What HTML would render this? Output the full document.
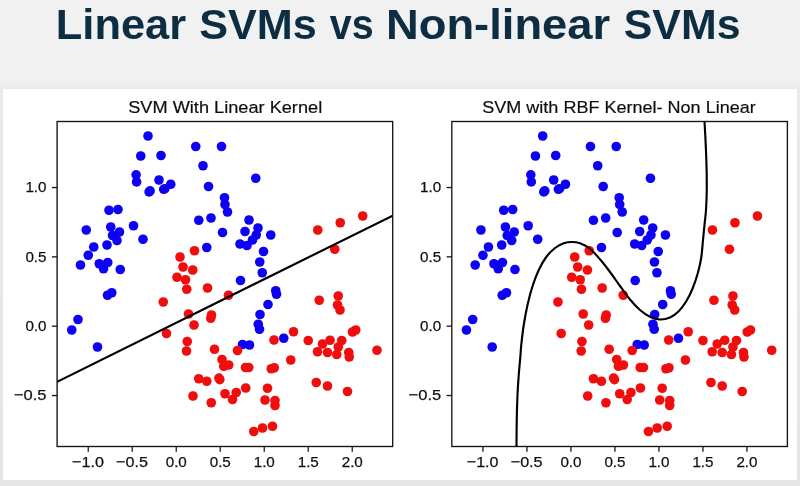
<!DOCTYPE html>
<html><head><meta charset="utf-8"><title>Linear SVMs vs Non-linear SVMs</title>
<style>
html,body{margin:0;padding:0}
body{width:800px;height:486px;overflow:hidden;position:relative;background:#f1f1f2;font-family:"Liberation Sans",sans-serif}
#shade{position:absolute;left:0;top:82px;width:800px;height:404px;background:linear-gradient(#f1f1f2,#e9e9e9 8px,#e5e5e5)}
#panel{position:absolute;left:3px;top:89px;width:794px;height:391px;background:#fff}
h1{position:absolute;left:0;top:0;margin:0;width:800px;text-align:center;color:#0b2d43;font-weight:bold;font-size:40px;line-height:48px;white-space:nowrap}
.tt{font-family:"Liberation Sans",sans-serif;font-weight:bold;font-size:41.8px;fill:#0b2d43}
.tk{font-family:"Liberation Sans",sans-serif;font-size:15.2px;fill:#111;stroke:#111;stroke-width:0.25px}
.st{font-family:"Liberation Sans",sans-serif;font-size:17.4px;fill:#111;stroke:#111;stroke-width:0.2px}
</style></head>
<body>
<div id="shade"></div>
<div id="panel"></div>
<svg width="800" height="486" viewBox="0 0 800 486" style="position:absolute;left:0;top:0">
<defs>
<clipPath id="cl"><rect x="57.1" y="121.5" width="335.59999999999997" height="325.0"/></clipPath>
<clipPath id="cr"><rect x="451.8" y="121.5" width="335.59999999999997" height="325.0"/></clipPath>
<filter id="bl" x="-5%" y="-5%" width="110%" height="110%"><feGaussianBlur stdDeviation="0.45"/></filter>
<filter id="b2" x="-2%" y="-2%" width="104%" height="104%"><feGaussianBlur stdDeviation="0.3"/></filter>
</defs>
<g filter="url(#b2)"><text class="tt" transform="translate(55.84,38.75) scale(1.0389,1)">Linear</text><text class="tt" transform="translate(199.16,38.75) scale(1.0334,1)">SVMs</text><text class="tt" transform="translate(329.81,38.75) scale(0.9438,1)">vs</text><text class="tt" transform="translate(385.96,38.75) scale(1.0851,1)">Non-linear</text><text class="tt" transform="translate(623.77,38.75) scale(1.0257,1)">SVMs</text></g>
<g filter="url(#bl)">
<g fill="#0a00f5"><circle cx="148.00" cy="136.00" r="4.8"/><circle cx="140.75" cy="156.00" r="4.8"/><circle cx="161.00" cy="155.50" r="4.8"/><circle cx="195.75" cy="146.50" r="4.8"/><circle cx="221.50" cy="146.50" r="4.8"/><circle cx="203.00" cy="165.75" r="4.8"/><circle cx="136.10" cy="174.80" r="4.8"/><circle cx="136.60" cy="181.90" r="4.8"/><circle cx="159.00" cy="180.00" r="4.8"/><circle cx="170.75" cy="184.25" r="4.8"/><circle cx="163.70" cy="189.30" r="4.8"/><circle cx="164.90" cy="188.70" r="4.8"/><circle cx="149.10" cy="191.90" r="4.8"/><circle cx="150.10" cy="190.90" r="4.8"/><circle cx="208.50" cy="186.50" r="4.8"/><circle cx="224.50" cy="197.75" r="4.8"/><circle cx="225.00" cy="204.50" r="4.8"/><circle cx="227.50" cy="212.00" r="4.8"/><circle cx="109.00" cy="210.25" r="4.8"/><circle cx="118.00" cy="209.50" r="4.8"/><circle cx="198.75" cy="220.25" r="4.8"/><circle cx="211.00" cy="218.00" r="4.8"/><circle cx="86.25" cy="230.00" r="4.8"/><circle cx="110.75" cy="227.00" r="4.8"/><circle cx="133.50" cy="225.75" r="4.8"/><circle cx="119.50" cy="232.00" r="4.8"/><circle cx="222.50" cy="232.50" r="4.8"/><circle cx="245.00" cy="231.50" r="4.8"/><circle cx="249.00" cy="220.00" r="4.8"/><circle cx="255.75" cy="178.25" r="4.8"/><circle cx="258.00" cy="228.00" r="4.8"/><circle cx="270.75" cy="235.00" r="4.8"/><circle cx="256.25" cy="235.00" r="4.8"/><circle cx="112.50" cy="235.50" r="4.8"/><circle cx="117.00" cy="240.50" r="4.8"/><circle cx="143.00" cy="239.25" r="4.8"/><circle cx="107.00" cy="245.00" r="4.8"/><circle cx="93.75" cy="247.00" r="4.8"/><circle cx="88.25" cy="255.25" r="4.8"/><circle cx="80.50" cy="265.00" r="4.8"/><circle cx="99.25" cy="263.75" r="4.8"/><circle cx="107.75" cy="262.50" r="4.8"/><circle cx="103.50" cy="268.75" r="4.8"/><circle cx="120.25" cy="269.50" r="4.8"/><circle cx="111.75" cy="292.75" r="4.8"/><circle cx="107.50" cy="295.25" r="4.8"/><circle cx="78.00" cy="319.50" r="4.8"/><circle cx="71.75" cy="330.00" r="4.8"/><circle cx="97.50" cy="347.00" r="4.8"/><circle cx="206.75" cy="247.50" r="4.8"/><circle cx="240.00" cy="244.00" r="4.8"/><circle cx="247.00" cy="245.50" r="4.8"/><circle cx="240.50" cy="280.50" r="4.8"/><circle cx="242.50" cy="344.50" r="4.8"/><circle cx="249.50" cy="345.00" r="4.8"/><circle cx="252.50" cy="240.00" r="4.8"/><circle cx="263.50" cy="251.50" r="4.8"/><circle cx="259.75" cy="262.00" r="4.8"/><circle cx="262.25" cy="272.75" r="4.8"/><circle cx="275.75" cy="290.75" r="4.8"/><circle cx="276.50" cy="294.25" r="4.8"/><circle cx="268.00" cy="304.50" r="4.8"/><circle cx="260.00" cy="314.50" r="4.8"/><circle cx="258.25" cy="324.25" r="4.8"/><circle cx="259.50" cy="329.25" r="4.8"/><circle cx="283.75" cy="338.25" r="4.8"/></g>
<g fill="#f00a0a"><circle cx="317.75" cy="230.00" r="4.8"/><circle cx="340.25" cy="222.75" r="4.8"/><circle cx="362.75" cy="216.00" r="4.8"/><circle cx="194.50" cy="250.75" r="4.8"/><circle cx="180.00" cy="257.00" r="4.8"/><circle cx="183.00" cy="267.00" r="4.8"/><circle cx="192.75" cy="270.00" r="4.8"/><circle cx="177.00" cy="277.25" r="4.8"/><circle cx="185.50" cy="279.75" r="4.8"/><circle cx="186.75" cy="289.25" r="4.8"/><circle cx="207.50" cy="288.00" r="4.8"/><circle cx="228.50" cy="295.25" r="4.8"/><circle cx="163.25" cy="302.00" r="4.8"/><circle cx="188.50" cy="314.00" r="4.8"/><circle cx="211.50" cy="315.00" r="4.8"/><circle cx="210.75" cy="318.25" r="4.8"/><circle cx="194.00" cy="325.00" r="4.8"/><circle cx="166.50" cy="333.50" r="4.8"/><circle cx="187.25" cy="341.50" r="4.8"/><circle cx="334.75" cy="249.25" r="4.8"/><circle cx="319.25" cy="300.25" r="4.8"/><circle cx="338.25" cy="296.00" r="4.8"/><circle cx="337.50" cy="305.00" r="4.8"/><circle cx="340.00" cy="310.00" r="4.8"/><circle cx="293.50" cy="331.75" r="4.8"/><circle cx="274.00" cy="340.00" r="4.8"/><circle cx="308.25" cy="340.50" r="4.8"/><circle cx="330.00" cy="340.25" r="4.8"/><circle cx="341.75" cy="340.50" r="4.8"/><circle cx="322.50" cy="344.00" r="4.8"/><circle cx="352.50" cy="332.00" r="4.8"/><circle cx="355.75" cy="330.00" r="4.8"/><circle cx="186.50" cy="351.00" r="4.8"/><circle cx="214.50" cy="349.25" r="4.8"/><circle cx="237.50" cy="350.50" r="4.8"/><circle cx="222.00" cy="359.50" r="4.8"/><circle cx="228.75" cy="365.00" r="4.8"/><circle cx="223.75" cy="366.25" r="4.8"/><circle cx="245.50" cy="367.50" r="4.8"/><circle cx="248.75" cy="367.50" r="4.8"/><circle cx="198.75" cy="378.75" r="4.8"/><circle cx="206.75" cy="381.25" r="4.8"/><circle cx="218.90" cy="378.10" r="4.8"/><circle cx="219.80" cy="379.60" r="4.8"/><circle cx="245.75" cy="388.00" r="4.8"/><circle cx="225.00" cy="393.75" r="4.8"/><circle cx="236.25" cy="392.50" r="4.8"/><circle cx="232.50" cy="399.50" r="4.8"/><circle cx="193.00" cy="396.00" r="4.8"/><circle cx="211.25" cy="402.75" r="4.8"/><circle cx="338.25" cy="347.00" r="4.8"/><circle cx="317.50" cy="351.75" r="4.8"/><circle cx="327.50" cy="352.50" r="4.8"/><circle cx="336.75" cy="354.50" r="4.8"/><circle cx="348.75" cy="352.50" r="4.8"/><circle cx="349.25" cy="357.00" r="4.8"/><circle cx="377.00" cy="350.25" r="4.8"/><circle cx="290.75" cy="360.00" r="4.8"/><circle cx="271.25" cy="368.75" r="4.8"/><circle cx="274.25" cy="367.75" r="4.8"/><circle cx="316.25" cy="382.50" r="4.8"/><circle cx="327.50" cy="386.00" r="4.8"/><circle cx="347.50" cy="391.50" r="4.8"/><circle cx="267.50" cy="388.25" r="4.8"/><circle cx="265.00" cy="400.00" r="4.8"/><circle cx="275.00" cy="400.50" r="4.8"/><circle cx="275.00" cy="405.50" r="4.8"/><circle cx="272.50" cy="426.25" r="4.8"/><circle cx="262.50" cy="428.00" r="4.8"/><circle cx="253.75" cy="431.50" r="4.8"/></g>
<g fill="#0a00f5"><circle cx="542.70" cy="136.00" r="4.8"/><circle cx="535.45" cy="156.00" r="4.8"/><circle cx="555.70" cy="155.50" r="4.8"/><circle cx="590.45" cy="146.50" r="4.8"/><circle cx="616.20" cy="146.50" r="4.8"/><circle cx="597.70" cy="165.75" r="4.8"/><circle cx="530.80" cy="174.80" r="4.8"/><circle cx="531.30" cy="181.90" r="4.8"/><circle cx="553.70" cy="180.00" r="4.8"/><circle cx="565.45" cy="184.25" r="4.8"/><circle cx="558.40" cy="189.30" r="4.8"/><circle cx="559.60" cy="188.70" r="4.8"/><circle cx="543.80" cy="191.90" r="4.8"/><circle cx="544.80" cy="190.90" r="4.8"/><circle cx="603.20" cy="186.50" r="4.8"/><circle cx="619.20" cy="197.75" r="4.8"/><circle cx="619.70" cy="204.50" r="4.8"/><circle cx="622.20" cy="212.00" r="4.8"/><circle cx="503.70" cy="210.25" r="4.8"/><circle cx="512.70" cy="209.50" r="4.8"/><circle cx="593.45" cy="220.25" r="4.8"/><circle cx="605.70" cy="218.00" r="4.8"/><circle cx="480.95" cy="230.00" r="4.8"/><circle cx="505.45" cy="227.00" r="4.8"/><circle cx="528.20" cy="225.75" r="4.8"/><circle cx="514.20" cy="232.00" r="4.8"/><circle cx="617.20" cy="232.50" r="4.8"/><circle cx="639.70" cy="231.50" r="4.8"/><circle cx="643.70" cy="220.00" r="4.8"/><circle cx="650.45" cy="178.25" r="4.8"/><circle cx="652.70" cy="228.00" r="4.8"/><circle cx="665.45" cy="235.00" r="4.8"/><circle cx="650.95" cy="235.00" r="4.8"/><circle cx="507.20" cy="235.50" r="4.8"/><circle cx="511.70" cy="240.50" r="4.8"/><circle cx="537.70" cy="239.25" r="4.8"/><circle cx="501.70" cy="245.00" r="4.8"/><circle cx="488.45" cy="247.00" r="4.8"/><circle cx="482.95" cy="255.25" r="4.8"/><circle cx="475.20" cy="265.00" r="4.8"/><circle cx="493.95" cy="263.75" r="4.8"/><circle cx="502.45" cy="262.50" r="4.8"/><circle cx="498.20" cy="268.75" r="4.8"/><circle cx="514.95" cy="269.50" r="4.8"/><circle cx="506.45" cy="292.75" r="4.8"/><circle cx="502.20" cy="295.25" r="4.8"/><circle cx="472.70" cy="319.50" r="4.8"/><circle cx="466.45" cy="330.00" r="4.8"/><circle cx="492.20" cy="347.00" r="4.8"/><circle cx="601.45" cy="247.50" r="4.8"/><circle cx="634.70" cy="244.00" r="4.8"/><circle cx="641.70" cy="245.50" r="4.8"/><circle cx="635.20" cy="280.50" r="4.8"/><circle cx="637.20" cy="344.50" r="4.8"/><circle cx="644.20" cy="345.00" r="4.8"/><circle cx="647.20" cy="240.00" r="4.8"/><circle cx="658.20" cy="251.50" r="4.8"/><circle cx="654.45" cy="262.00" r="4.8"/><circle cx="656.95" cy="272.75" r="4.8"/><circle cx="670.45" cy="290.75" r="4.8"/><circle cx="671.20" cy="294.25" r="4.8"/><circle cx="662.70" cy="304.50" r="4.8"/><circle cx="654.70" cy="314.50" r="4.8"/><circle cx="652.95" cy="324.25" r="4.8"/><circle cx="654.20" cy="329.25" r="4.8"/><circle cx="678.45" cy="338.25" r="4.8"/></g>
<g fill="#f00a0a"><circle cx="712.45" cy="230.00" r="4.8"/><circle cx="734.95" cy="222.75" r="4.8"/><circle cx="757.45" cy="216.00" r="4.8"/><circle cx="589.20" cy="250.75" r="4.8"/><circle cx="574.70" cy="257.00" r="4.8"/><circle cx="577.70" cy="267.00" r="4.8"/><circle cx="587.45" cy="270.00" r="4.8"/><circle cx="571.70" cy="277.25" r="4.8"/><circle cx="580.20" cy="279.75" r="4.8"/><circle cx="581.45" cy="289.25" r="4.8"/><circle cx="602.20" cy="288.00" r="4.8"/><circle cx="623.20" cy="295.25" r="4.8"/><circle cx="557.95" cy="302.00" r="4.8"/><circle cx="583.20" cy="314.00" r="4.8"/><circle cx="606.20" cy="315.00" r="4.8"/><circle cx="605.45" cy="318.25" r="4.8"/><circle cx="588.70" cy="325.00" r="4.8"/><circle cx="561.20" cy="333.50" r="4.8"/><circle cx="581.95" cy="341.50" r="4.8"/><circle cx="729.45" cy="249.25" r="4.8"/><circle cx="713.95" cy="300.25" r="4.8"/><circle cx="732.95" cy="296.00" r="4.8"/><circle cx="732.20" cy="305.00" r="4.8"/><circle cx="734.70" cy="310.00" r="4.8"/><circle cx="688.20" cy="331.75" r="4.8"/><circle cx="668.70" cy="340.00" r="4.8"/><circle cx="702.95" cy="340.50" r="4.8"/><circle cx="724.70" cy="340.25" r="4.8"/><circle cx="736.45" cy="340.50" r="4.8"/><circle cx="717.20" cy="344.00" r="4.8"/><circle cx="747.20" cy="332.00" r="4.8"/><circle cx="750.45" cy="330.00" r="4.8"/><circle cx="581.20" cy="351.00" r="4.8"/><circle cx="609.20" cy="349.25" r="4.8"/><circle cx="632.20" cy="350.50" r="4.8"/><circle cx="616.70" cy="359.50" r="4.8"/><circle cx="623.45" cy="365.00" r="4.8"/><circle cx="618.45" cy="366.25" r="4.8"/><circle cx="640.20" cy="367.50" r="4.8"/><circle cx="643.45" cy="367.50" r="4.8"/><circle cx="593.45" cy="378.75" r="4.8"/><circle cx="601.45" cy="381.25" r="4.8"/><circle cx="613.60" cy="378.10" r="4.8"/><circle cx="614.50" cy="379.60" r="4.8"/><circle cx="640.45" cy="388.00" r="4.8"/><circle cx="619.70" cy="393.75" r="4.8"/><circle cx="630.95" cy="392.50" r="4.8"/><circle cx="627.20" cy="399.50" r="4.8"/><circle cx="587.70" cy="396.00" r="4.8"/><circle cx="605.95" cy="402.75" r="4.8"/><circle cx="732.95" cy="347.00" r="4.8"/><circle cx="712.20" cy="351.75" r="4.8"/><circle cx="722.20" cy="352.50" r="4.8"/><circle cx="731.45" cy="354.50" r="4.8"/><circle cx="743.45" cy="352.50" r="4.8"/><circle cx="743.95" cy="357.00" r="4.8"/><circle cx="771.70" cy="350.25" r="4.8"/><circle cx="685.45" cy="360.00" r="4.8"/><circle cx="665.95" cy="368.75" r="4.8"/><circle cx="668.95" cy="367.75" r="4.8"/><circle cx="710.95" cy="382.50" r="4.8"/><circle cx="722.20" cy="386.00" r="4.8"/><circle cx="742.20" cy="391.50" r="4.8"/><circle cx="662.20" cy="388.25" r="4.8"/><circle cx="659.70" cy="400.00" r="4.8"/><circle cx="669.70" cy="400.50" r="4.8"/><circle cx="669.70" cy="405.50" r="4.8"/><circle cx="667.20" cy="426.25" r="4.8"/><circle cx="657.20" cy="428.00" r="4.8"/><circle cx="648.45" cy="431.50" r="4.8"/></g>
<line x1="57.1" y1="381.8" x2="392.7" y2="215.6" stroke="#000" stroke-width="2.15" clip-path="url(#cl)"/>
<path d="M704.50,121.25 C704.67,124.38 705.17,132.71 705.50,140.00 C705.83,147.29 706.29,156.67 706.50,165.00 C706.71,173.33 706.83,182.50 706.75,190.00 C706.67,197.50 706.38,204.17 706.00,210.00 C705.62,215.83 705.00,220.00 704.50,225.00 C704.00,230.00 703.54,234.58 703.00,240.00 C702.46,245.42 702.08,252.08 701.25,257.50 C700.42,262.92 699.46,267.29 698.00,272.50 C696.54,277.71 694.46,283.96 692.50,288.75 C690.54,293.54 688.54,297.50 686.25,301.25 C683.96,305.00 681.46,308.54 678.75,311.25 C676.04,313.96 673.12,316.12 670.00,317.50 C666.88,318.88 663.33,319.62 660.00,319.50 C656.67,319.38 653.33,318.33 650.00,316.75 C646.67,315.17 643.33,312.88 640.00,310.00 C636.67,307.12 633.33,303.50 630.00,299.50 C626.67,295.50 623.33,290.58 620.00,286.00 C616.67,281.42 613.33,276.45 610.00,272.00 C606.67,267.55 603.33,263.18 600.00,259.30 C596.67,255.43 593.33,251.43 590.00,248.75 C586.67,246.07 583.00,244.38 580.00,243.25 C577.00,242.12 574.71,242.00 572.00,242.00 C569.29,242.00 566.58,242.25 563.75,243.25 C560.92,244.25 557.92,245.71 555.00,248.00 C552.08,250.29 548.96,253.33 546.25,257.00 C543.54,260.67 541.04,265.12 538.75,270.00 C536.46,274.88 534.38,280.42 532.50,286.25 C530.62,292.08 528.96,298.54 527.50,305.00 C526.04,311.46 524.79,318.33 523.75,325.00 C522.71,331.67 521.79,340.00 521.25,345.00 C520.71,350.00 520.92,350.00 520.50,355.00 C520.08,360.00 519.25,368.33 518.75,375.00 C518.25,381.67 517.83,387.50 517.50,395.00 C517.17,402.50 516.92,411.50 516.75,420.00 C516.58,428.50 516.54,441.67 516.50,446.00" fill="none" stroke="#000" stroke-width="2.15" clip-path="url(#cr)"/>
</g>
<g filter="url(#b2)">
<rect x="57.1" y="121.5" width="335.59999999999997" height="325.0" fill="none" stroke="#151515" stroke-width="1.35"/><line x1="88.25" y1="446.5" x2="88.25" y2="451.7" stroke="#151515" stroke-width="1.3"/><text class="tk" x="87.95" y="467.4" text-anchor="middle" textLength="31.8" lengthAdjust="spacingAndGlyphs">−1.0</text><line x1="132.25" y1="446.5" x2="132.25" y2="451.7" stroke="#151515" stroke-width="1.3"/><text class="tk" x="131.95" y="467.4" text-anchor="middle" textLength="31.8" lengthAdjust="spacingAndGlyphs">−0.5</text><line x1="176.25" y1="446.5" x2="176.25" y2="451.7" stroke="#151515" stroke-width="1.3"/><text class="tk" x="176.25" y="467.4" text-anchor="middle">0.0</text><line x1="220.25" y1="446.5" x2="220.25" y2="451.7" stroke="#151515" stroke-width="1.3"/><text class="tk" x="220.25" y="467.4" text-anchor="middle">0.5</text><line x1="264.25" y1="446.5" x2="264.25" y2="451.7" stroke="#151515" stroke-width="1.3"/><text class="tk" x="264.25" y="467.4" text-anchor="middle">1.0</text><line x1="308.25" y1="446.5" x2="308.25" y2="451.7" stroke="#151515" stroke-width="1.3"/><text class="tk" x="308.25" y="467.4" text-anchor="middle">1.5</text><line x1="352.25" y1="446.5" x2="352.25" y2="451.7" stroke="#151515" stroke-width="1.3"/><text class="tk" x="352.25" y="467.4" text-anchor="middle">2.0</text><line x1="51.9" y1="187.53" x2="57.1" y2="187.53" stroke="#151515" stroke-width="1.3"/><text class="tk" x="46.50" y="192.38" text-anchor="end">1.0</text><line x1="51.9" y1="256.87" x2="57.1" y2="256.87" stroke="#151515" stroke-width="1.3"/><text class="tk" x="46.50" y="261.72" text-anchor="end">0.5</text><line x1="51.9" y1="326.20" x2="57.1" y2="326.20" stroke="#151515" stroke-width="1.3"/><text class="tk" x="46.50" y="331.05" text-anchor="end">0.0</text><line x1="51.9" y1="395.53" x2="57.1" y2="395.53" stroke="#151515" stroke-width="1.3"/><text class="tk" x="46.50" y="400.38" text-anchor="end" textLength="32.6" lengthAdjust="spacingAndGlyphs">−0.5</text>
<rect x="451.8" y="121.5" width="335.59999999999997" height="325.0" fill="none" stroke="#151515" stroke-width="1.35"/><line x1="482.95" y1="446.5" x2="482.95" y2="451.7" stroke="#151515" stroke-width="1.3"/><text class="tk" x="482.65" y="467.4" text-anchor="middle" textLength="31.8" lengthAdjust="spacingAndGlyphs">−1.0</text><line x1="526.95" y1="446.5" x2="526.95" y2="451.7" stroke="#151515" stroke-width="1.3"/><text class="tk" x="526.65" y="467.4" text-anchor="middle" textLength="31.8" lengthAdjust="spacingAndGlyphs">−0.5</text><line x1="570.95" y1="446.5" x2="570.95" y2="451.7" stroke="#151515" stroke-width="1.3"/><text class="tk" x="570.95" y="467.4" text-anchor="middle">0.0</text><line x1="614.95" y1="446.5" x2="614.95" y2="451.7" stroke="#151515" stroke-width="1.3"/><text class="tk" x="614.95" y="467.4" text-anchor="middle">0.5</text><line x1="658.95" y1="446.5" x2="658.95" y2="451.7" stroke="#151515" stroke-width="1.3"/><text class="tk" x="658.95" y="467.4" text-anchor="middle">1.0</text><line x1="702.95" y1="446.5" x2="702.95" y2="451.7" stroke="#151515" stroke-width="1.3"/><text class="tk" x="702.95" y="467.4" text-anchor="middle">1.5</text><line x1="746.95" y1="446.5" x2="746.95" y2="451.7" stroke="#151515" stroke-width="1.3"/><text class="tk" x="746.95" y="467.4" text-anchor="middle">2.0</text><line x1="446.6" y1="187.53" x2="451.8" y2="187.53" stroke="#151515" stroke-width="1.3"/><text class="tk" x="441.20" y="192.38" text-anchor="end">1.0</text><line x1="446.6" y1="256.87" x2="451.8" y2="256.87" stroke="#151515" stroke-width="1.3"/><text class="tk" x="441.20" y="261.72" text-anchor="end">0.5</text><line x1="446.6" y1="326.20" x2="451.8" y2="326.20" stroke="#151515" stroke-width="1.3"/><text class="tk" x="441.20" y="331.05" text-anchor="end">0.0</text><line x1="446.6" y1="395.53" x2="451.8" y2="395.53" stroke="#151515" stroke-width="1.3"/><text class="tk" x="441.20" y="400.38" text-anchor="end" textLength="32.6" lengthAdjust="spacingAndGlyphs">−0.5</text>
<text class="st" x="225.2" y="113" text-anchor="middle" textLength="194" lengthAdjust="spacingAndGlyphs">SVM With Linear Kernel</text>
<text class="st" x="619" y="113" text-anchor="middle" textLength="273.5" lengthAdjust="spacingAndGlyphs">SVM with RBF Kernel- Non Linear</text>
</g>
</svg>
</body></html>
